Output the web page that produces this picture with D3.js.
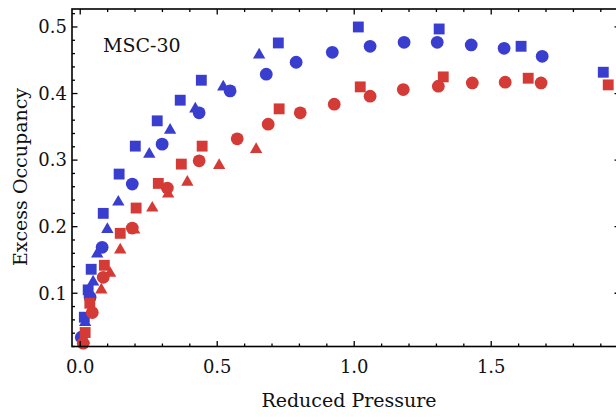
<!DOCTYPE html>
<html>
<head>
<meta charset="utf-8">
<script src="https://cdn.jsdelivr.net/npm/d3@7"></script>
<style>
body {margin: 0; background: #fff;}
svg {display: block;}
text {font-family: 'DejaVu Serif', serif; fill: #111;}
</style>
</head>
<body>
<div id="chart"></div>
<script>
// reduced pressure, excess occupancy
var blueSquares = [
  [0.015, 0.064], [0.029, 0.105], [0.040, 0.136], [0.084, 0.220], [0.142, 0.279],
  [0.201, 0.321], [0.281, 0.359], [0.365, 0.390], [0.442, 0.420], [0.723, 0.476],
  [1.015, 0.500], [1.310, 0.497], [1.609, 0.471], [1.909, 0.432]
]
var blueTriangles = [
  [0.018, 0.056], [0.047, 0.117], [0.062, 0.159], [0.099, 0.196], [0.139, 0.237],
  [0.252, 0.309], [0.328, 0.345], [0.420, 0.377], [0.522, 0.410], [0.653, 0.458]
]
var blueCircles = [
  [0.004, 0.034], [0.036, 0.094], [0.080, 0.169], [0.190, 0.264], [0.299, 0.324],
  [0.434, 0.371], [0.547, 0.404], [0.679, 0.429], [0.788, 0.447], [0.920, 0.462],
  [1.058, 0.471], [1.182, 0.477], [1.303, 0.477], [1.427, 0.473], [1.547, 0.468],
  [1.686, 0.456]
]
var redSquares = [
  [0.018, 0.041], [0.035, 0.085], [0.088, 0.142], [0.146, 0.190], [0.204, 0.228],
  [0.285, 0.265], [0.369, 0.294], [0.445, 0.321], [0.726, 0.377], [1.022, 0.410],
  [1.325, 0.425], [1.635, 0.423], [1.927, 0.413]
]
var redTriangles = [
  [0.014, 0.030], [0.077, 0.105], [0.109, 0.130], [0.146, 0.165], [0.197, 0.195],
  [0.263, 0.228], [0.321, 0.249], [0.391, 0.267], [0.507, 0.292], [0.642, 0.316]
]
var redCircles = [
  [0.011, 0.025], [0.044, 0.071], [0.084, 0.124], [0.190, 0.198], [0.318, 0.258],
  [0.434, 0.299], [0.573, 0.332], [0.686, 0.354], [0.803, 0.371], [0.927, 0.384],
  [1.058, 0.396], [1.179, 0.406], [1.307, 0.411], [1.431, 0.416], [1.551, 0.417],
  [1.682, 0.416]
]

var xTicks = [0, 0.5, 1, 1.5]
var yTicks = [0.1, 0.2, 0.3, 0.4, 0.5]

var blue = '#3a3ecf'
var red = '#d43b36'

var series = [
  {data: blueSquares, shape: 'square', color: blue},
  {data: blueTriangles, shape: 'triangle', color: blue},
  {data: blueCircles, shape: 'circle', color: blue},
  {data: redSquares, shape: 'square', color: red},
  {data: redTriangles, shape: 'triangle', color: red},
  {data: redCircles, shape: 'circle', color: red},
]

var width = 616, height = 417
// plot box (right edge sits just past the picture, like the original crop)
var pLeft = 72, pRight = 620, pTop = 9, pBottom = 346.5

var svg = d3.select('#chart').append('svg')
  .attr('width', width)
  .attr('height', height)

var x = d3.scaleLinear().domain([-0.03, 1.97]).range([pLeft, pRight])
var y = d3.scaleLinear().domain([0.02, 0.527]).range([pBottom, pTop])

var shapes = {
  square: d3.symbol(d3.symbolSquare, 118),
  triangle: d3.symbol(d3.symbolTriangle, 66),
  circle: d3.symbol(d3.symbolCircle, 128),
}

var markSel = svg.append('g')
series.forEach(s => {
  markSel.append('g').selectAll('path')
    .data(s.data).join('path')
    .attr('transform', d => `translate(${x(d[0])},${y(d[1])})`)
    .attr('d', shapes[s.shape])
    .attr('fill', s.color)
})

// frame with inward ticks on every side
var frame = svg.append('g').attr('stroke', '#000').attr('fill', 'none')

frame.append('rect')
  .attr('x', pLeft).attr('y', pTop)
  .attr('width', pRight - pLeft).attr('height', pBottom - pTop)
  .attr('stroke-width', 1.6)

var xMinor = d3.range(0, 1.95, 0.1).filter(v => !xTicks.some(t => Math.abs(t - v) < 1e-6))
var yMinor = d3.range(0.02, 0.525, 0.02).filter(v => !yTicks.some(t => Math.abs(t - v) < 1e-6))

function xTickLines(vals, len) {
  frame.append('g').selectAll('line').data(vals).join('line')
    .attr('x1', x).attr('x2', x)
    .attr('y1', pBottom).attr('y2', pBottom - len)
  frame.append('g').selectAll('line').data(vals).join('line')
    .attr('x1', x).attr('x2', x)
    .attr('y1', pTop).attr('y2', pTop + len)
}
function yTickLines(vals, len) {
  frame.append('g').selectAll('line').data(vals).join('line')
    .attr('y1', y).attr('y2', y)
    .attr('x1', pLeft).attr('x2', pLeft + len)
  frame.append('g').selectAll('line').data(vals).join('line')
    .attr('y1', y).attr('y2', y)
    .attr('x1', pRight).attr('x2', pRight - len)
}
xTickLines(xTicks, 5.5)
xTickLines(xMinor, 3)
yTickLines(yTicks, 5.5)
yTickLines(yMinor, 3)
frame.selectAll('line').attr('stroke-width', 1.3)

svg.append('g').selectAll('text')
  .data(xTicks).join('text')
  .attr('x', x)
  .attr('y', 373)
  .attr('text-anchor', 'middle')
  .style('font-size', '18px')
  .text(d => d3.format('.1f')(d))

svg.append('g').selectAll('text')
  .data(yTicks).join('text')
  .attr('x', 67)
  .attr('y', y)
  .attr('dy', '.35em')
  .attr('text-anchor', 'end')
  .style('font-size', '18px')
  .text(d => d3.format('.1f')(d))

svg.append('text')
  .attr('x', 349)
  .attr('y', 407)
  .attr('text-anchor', 'middle')
  .style('font-size', '19px')
  .text('Reduced Pressure')

svg.append('text')
  .attr('transform', 'translate(27,177) rotate(-90)')
  .attr('text-anchor', 'middle')
  .style('font-size', '19px')
  .text('Excess Occupancy')

svg.append('text')
  .attr('x', 103)
  .attr('y', 52)
  .style('font-size', '19px')
  .text('MSC-30')
</script>
</body>
</html>
